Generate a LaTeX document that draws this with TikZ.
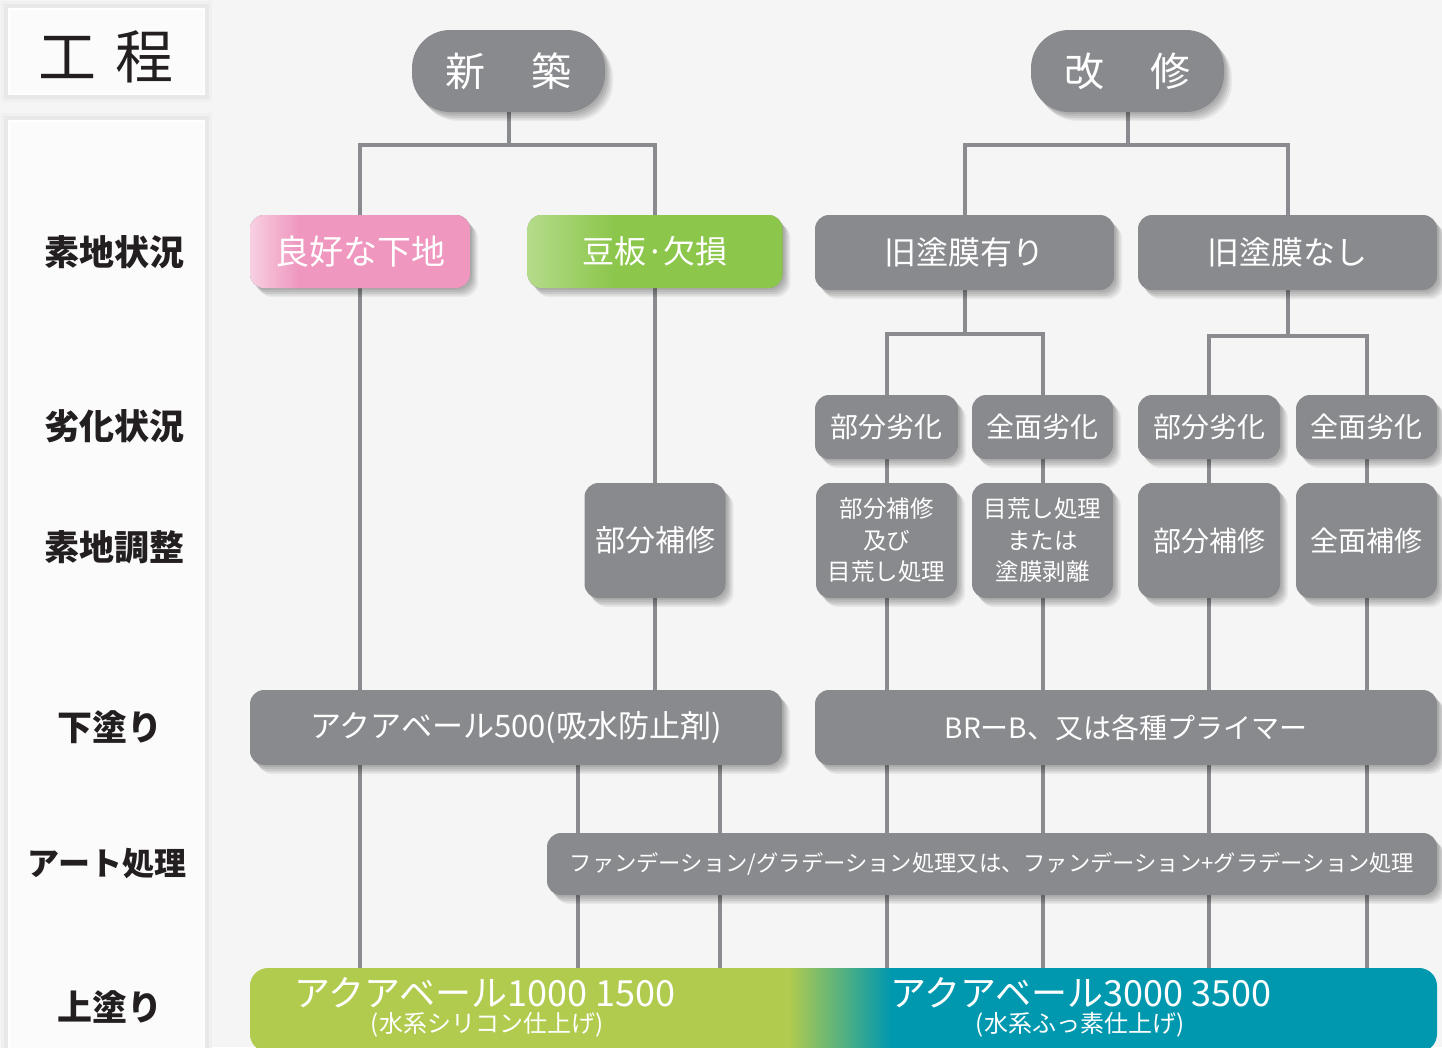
\documentclass[tikz,border=0pt]{standalone}
\usepackage{fontspec}
\newfontfamily\jp{Noto Sans CJK JP}
\usetikzlibrary{calc}
\definecolor{bgcol}{HTML}{F5F5F5}
\definecolor{boxgray}{HTML}{898A8D}
\definecolor{linegray}{HTML}{8A8B8E}
\definecolor{pinkc}{HTML}{EF97BF}
\definecolor{pinkl}{HTML}{F8D0E2}
\definecolor{greenc}{HTML}{8CC64B}
\definecolor{greenl}{HTML}{B4DB8A}
\definecolor{tgreen}{HTML}{B1CB4E}
\definecolor{tteal}{HTML}{0098AF}
\definecolor{labcol}{HTML}{231F20}
\pgfdeclarehorizontalshading{pinkgrad}{100bp}{color(0bp)=(pinkl); color(25bp)=(pinkl); color(36bp)=(pinkc); color(100bp)=(pinkc)}
\pgfdeclarehorizontalshading{greengrad}{100bp}{color(0bp)=(greenl); color(25bp)=(greenl); color(42bp)=(greenc); color(100bp)=(greenc)}
\pgfdeclarehorizontalshading{topgrad}{100bp}{color(0bp)=(tgreen); color(47.7bp)=(tgreen); color(52bp)=(tteal); color(100bp)=(tteal)}
\newcommand\fsz[2]{\fontsize{#1}{#2}\selectfont}
\pgfdeclarelayer{back}
\pgfdeclarelayer{lines}
\pgfsetlayers{back,lines,main}
\tikzset{
  ln/.style={draw=linegray, line width=4pt},
  softshadow/.style={
    preaction={fill=black, opacity=0.07, transform canvas={xshift=2pt,yshift=-2pt}},
    preaction={fill=black, opacity=0.07, transform canvas={xshift=3.5pt,yshift=-4pt}},
    preaction={fill=black, opacity=0.07, transform canvas={xshift=5pt,yshift=-6pt}},
    preaction={fill=black, opacity=0.06, transform canvas={xshift=6.5pt,yshift=-7.5pt}},
    preaction={fill=black, opacity=0.05, transform canvas={xshift=8pt,yshift=-9pt}}},
  gbox/.style={softshadow, fill=boxgray, rounded corners=14pt, text=white, align=center, inner sep=0pt, font=\jp},
  lab/.style={font=\jp\bfseries\fsz{35}{40}, text=labcol},
  colpanel/.style={fill=white!60!bgcol, draw=white, line width=2pt,
    preaction={draw=black!6, line width=16pt},
    preaction={draw=black!9, line width=10pt}},
}
\begin{document}
\begin{tikzpicture}[x=1pt,y=-1pt]
\useasboundingbox (0,0) rectangle (1442,1047);
\clip (0,0) rectangle (1442,1047);
\begin{pgfonlayer}{back}
  \fill[bgcol] (0,0) rectangle (1442,1047);
  \draw[colpanel] (9,9) rectangle (204,94);
  \draw[colpanel] (9,121) rectangle (204,1080);
\end{pgfonlayer}

% left labels
\node[font=\jp\fsz{58}{62}, text=labcol] (kotei) at (106,57) {工\hspace{20pt}程};
\node[lab] (l1) at (114,252) {素地状況};
\node[lab] (l2) at (114,426) {劣化状況};
\node[lab] (l3) at (114,547) {素地調整};
\node[lab] (l4) at (110,727) {下塗り};
\node[lab, font=\jp\bfseries\fsz{32}{40}] (l5) at (107,864) {アート処理};
\node[lab] (l6) at (110,1007) {上塗り};

% top headers
\node[gbox, rounded corners=38pt, minimum width=193pt, minimum height=82pt, font=\jp\fsz{40}{44}] (shin) at (508.5,71) {新\hspace{46pt}築};
\node[gbox, rounded corners=38pt, minimum width=193pt, minimum height=82pt, font=\jp\fsz{40}{44}] (kai) at (1127.5,71) {改\hspace{46pt}修};

% substrate state
\node[gbox, shading=pinkgrad, minimum width=220pt, minimum height=73pt, font=\jp\fsz{34}{40}] (good) at (360,251.5) {良好な下地};
\node[gbox, shading=greengrad, minimum width=255pt, minimum height=73pt, font=\jp\fsz{32}{40}] (mame) at (655,251.5) {豆板·欠損};
\node[gbox, minimum width=299pt, minimum height=75pt, font=\jp\fsz{32}{40}] (kyuA) at (964.5,252.5) {旧塗膜有り};
\node[gbox, minimum width=299pt, minimum height=75pt, font=\jp\fsz{32}{40}] (kyuN) at (1287.5,252.5) {旧塗膜なし};

% deterioration
\node[gbox, minimum width=143pt, minimum height=64pt, font=\jp\fsz{28}{34}] (r1) at (886.5,427) {部分劣化};
\node[gbox, minimum width=141pt, minimum height=64pt, font=\jp\fsz{28}{34}] (r2) at (1042.5,427) {全面劣化};
\node[gbox, minimum width=142pt, minimum height=64pt, font=\jp\fsz{28}{34}] (r3) at (1209,427) {部分劣化};
\node[gbox, minimum width=141pt, minimum height=64pt, font=\jp\fsz{28}{34}] (r4) at (1366.5,427) {全面劣化};

% substrate adjustment
\node[gbox, minimum width=141pt, minimum height=115pt, font=\jp\fsz{30}{36}] (p0) at (655,540.5) {部分補修};
\node[gbox, minimum width=141pt, minimum height=115pt, font=\jp\fsz{23.5}{31.5}] (p1) at (886.5,540.5) {部分補修\\及び\\目荒し処理};
\node[gbox, minimum width=141pt, minimum height=115pt, font=\jp\fsz{23.5}{31.5}] (p2) at (1042.5,540.5) {目荒し処理\\または\\塗膜剥離};
\node[gbox, minimum width=142pt, minimum height=115pt, font=\jp\fsz{28}{34}] (p3) at (1209,540.5) {部分補修};
\node[gbox, minimum width=141pt, minimum height=115pt, font=\jp\fsz{28}{34}] (p4) at (1366.5,540.5) {全面補修};

% undercoat
\node[gbox, minimum width=532pt, minimum height=75pt, font=\jp\fsz{31}{36}] (a500) at (516,727.5) {アクアベール500(吸水防止剤)};
\node[gbox, minimum width=622pt, minimum height=75pt, font=\jp\fsz{28}{34}] (brb) at (1126,727.5) {BRーB、又は各種プライマー};

% art
\node[gbox, minimum width=890pt, minimum height=62pt, font=\jp\fsz{22.3}{28}] (art) at (992,864) {ファンデーション/グラデーション処理又は、ファンデーション+グラデーション処理};

% top coat
\node[shading=topgrad, rounded corners=18pt, minimum width=1187pt, minimum height=84pt, inner sep=0pt] (top) at (843.5,1010) {};
\node[text=white, font=\jp\fsz{36}{40}, inner sep=0pt] (t1a) at (485,993) {アクアベール1000 1500};
\node[text=white, font=\jp\fsz{24}{28}, inner sep=0pt] (t1b) at (487,1025) {(水系シリコン仕上げ)};
\node[text=white, font=\jp\fsz{36}{40}, inner sep=0pt] (t2a) at (1081,993) {アクアベール3000 3500};
\node[text=white, font=\jp\fsz{24}{28}, inner sep=0pt] (t2b) at (1080,1025) {(水系ふっ素仕上げ)};

% connectors
\begin{pgfonlayer}{lines}
  \coordinate (jS) at (508.5,145);
  \coordinate (jK) at (1127.5,145);
  \coordinate (jA) at (964.5,334);
  \coordinate (jN) at (1287.5,336);
  \coordinate (c578) at (578,0);
  \coordinate (c720) at (720,0);
  \draw[ln] (shin.south) -- (jS);
  \draw[ln] (good.north) |- (jS) -| (mame.north);
  \draw[ln] (kai.south) -- (jK);
  \draw[ln] (kyuA.north) |- (jK) -| (kyuN.north);
  \draw[ln] (kyuA.south) -- (jA);
  \draw[ln] (r1.north) |- (jA) -| (r2.north);
  \draw[ln] (kyuN.south) -- (jN);
  \draw[ln] (r3.north) |- (jN) -| (r4.north);
  \draw[ln] (good.south) -- (good.south |- top.north);
  \draw[ln] (mame.south) -- (p0.north);
  \draw[ln] (p0.south) -- (p0.south |- a500.north);
  \draw[ln] (a500.south -| c578) -- (top.north -| c578);
  \draw[ln] (a500.south -| c720) -- (top.north -| c720);
  \foreach \r/\p in {r1/p1, r2/p2, r3/p3, r4/p4}{
    \draw[ln] (\r.south) -- (\p.north);
    \draw[ln] (\p.south) -- (\p.south |- top.north);
  }
\end{pgfonlayer}
\end{tikzpicture}
\end{document}
